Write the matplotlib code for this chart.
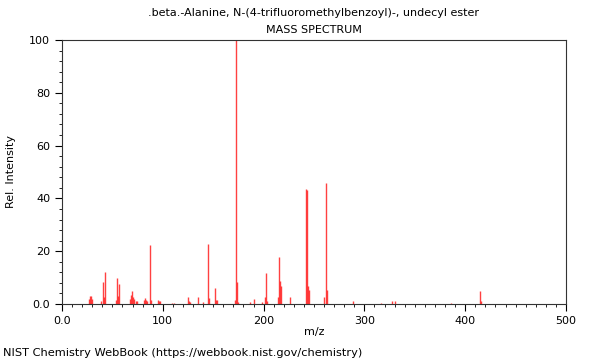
import matplotlib
matplotlib.use("Agg")
import matplotlib.pyplot as plt
from matplotlib.ticker import MultipleLocator, FixedLocator, FixedFormatter

# =========================
# DATA (m/z, relative intensity)
# =========================

title = ".beta.-Alanine, N-(4-trifluoromethylbenzoyl)-, undecyl ester"

mz = [27, 28, 29, 30, 39, 41, 42, 43, 54, 55, 56, 57, 67, 68, 69, 70, 71,
      73, 74, 81, 82, 83, 84, 87, 88, 95, 96, 97, 109, 111,
      125, 126, 127, 135, 140, 145, 146, 152, 153, 154, 172, 173, 174, 175,
      187, 190, 198, 201, 202, 203, 214, 215, 216, 217, 226,
      242, 243, 244, 245, 260, 262, 263, 289, 316, 327, 330, 386, 415, 416]
intensity = [2.0, 3.0, 3.0, 2.0, 1.0, 8.5, 2.5, 12.0, 1.5, 9.8, 3.0, 7.5, 2.0, 3.5, 5.0, 2.5, 2.0,
             1.0, 1.0, 1.5, 2.1, 1.5, 1.0, 22.3, 1.5, 1.5, 1.2, 1.0, 0.5, 0.5,
             2.8, 1.0, 0.8, 2.8, 0.6, 22.7, 2.1, 5.9, 1.6, 1.5, 1.6, 100.0, 8.5, 0.8,
             0.9, 2.0, 0.6, 2.8, 11.9, 1.0, 2.5, 17.9, 8.8, 6.9, 2.5,
             43.6, 43.2, 6.9, 5.4, 2.5, 45.9, 5.4, 1.0, 0.3, 1.0, 1.2, 0.5, 4.8, 1.0]

x_ticks = [0, 100, 200, 300, 400, 500]
x_labels = ["0.0", "100", "200", "300", "400", "500"]
y_ticks = [0, 20, 40, 60, 80, 100]
y_labels = ["0.0", "20", "40", "60", "80", "100"]

# =========================
# PLOT
# =========================

fig = plt.figure(figsize=(6, 3.6), dpi=100)
ax = fig.add_axes([62/600, 1 - 304/360, 504/600, 264/360])

ax.vlines(mz, 0, intensity, colors="#ff2020", linewidth=1.0, alpha=0.85)

ax.set_xlim(0, 500)
ax.set_ylim(0, 100)

ax.xaxis.set_major_locator(FixedLocator(x_ticks))
ax.xaxis.set_major_formatter(FixedFormatter(x_labels))
ax.yaxis.set_major_locator(FixedLocator(y_ticks))
ax.yaxis.set_major_formatter(FixedFormatter(y_labels))
ax.xaxis.set_minor_locator(MultipleLocator(10))
ax.yaxis.set_minor_locator(MultipleLocator(4))

ax.tick_params(which="major", length=5, width=0.8, labelsize=8, direction="out")
ax.tick_params(which="minor", length=2.5, width=0.6, direction="out")
for s in ax.spines.values():
    s.set_linewidth(0.8)
    s.set_color("#333333")

ax.set_xlabel("m/z", fontsize=8, labelpad=1)
ax.set_ylabel("Rel. Intensity", fontsize=8)
ax.yaxis.set_label_coords(-46/504, 0.5)

fig.text(314/600, 1 - 13/360, title, ha="center", va="center", fontsize=8)
fig.text(314/600, 1 - 30/360, "MASS SPECTRUM", ha="center", va="center", fontsize=8)
fig.text(3/600, 1 - 353/360, "NIST Chemistry WebBook (https://webbook.nist.gov/chemistry)",
         ha="left", va="center", fontsize=8.2)

fig.savefig("out.png", dpi=100)
